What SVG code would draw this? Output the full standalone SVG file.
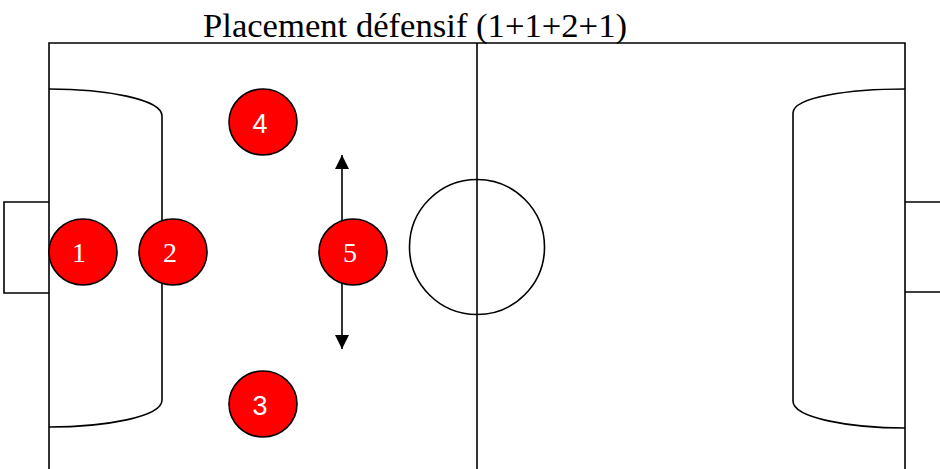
<svg xmlns="http://www.w3.org/2000/svg" width="940" height="469" viewBox="0 0 940 469">
<defs>
<style>
.ln{fill:none;stroke:#000;stroke-width:1.6}
.pl{fill:#ff0000;stroke:#000;stroke-width:1.6}
.ns{font-family:"Liberation Serif","Times New Roman",serif;font-size:28px;fill:#fff;text-anchor:middle}
.nn{font-family:"Liberation Sans",Arial,sans-serif;font-size:27px;fill:#fff;text-anchor:middle}
.title{font-family:"Liberation Serif","Times New Roman",serif;font-size:33px;fill:#000}
</style>
<marker id="ah" viewBox="0 0 10 10" refX="10" refY="5" markerWidth="14" markerHeight="14" markerUnits="userSpaceOnUse" orient="auto">
<path d="M0,0 L10,5 L0,10 Z" fill="#000"/>
</marker>
</defs>
<rect width="940" height="469" fill="#fff"/>
<g id="field">
<path class="ln" d="M49,469 V43 H905 V469"/>
<path class="ln" d="M477,43 V469"/>
<circle class="ln" cx="477" cy="247" r="67.5"/>
<path class="ln" d="M49,202 H4 V293 H49"/>
<path class="ln" d="M940,202 H905 M905,292 H940"/>
<path class="ln" d="M49,89 C105,89 162,99 162,116 V400 C162,417 105,427 49,427"/>
<path class="ln" d="M905,89 C850,89 793,97 793,113 V401 C793,418 850,428 905,428"/>
</g>
<text class="title" x="203" y="37" textLength="424" lengthAdjust="spacingAndGlyphs">Placement défensif (1+1+2+1)</text>
<g id="connectors">
<path class="ln" d="M342,252 V155" marker-end="url(#ah)"/>
<path class="ln" d="M342,252 V349" marker-end="url(#ah)"/>
</g>
<g id="p4"><ellipse class="pl" cx="263" cy="122" rx="34" ry="33"/><text class="nn" x="260" y="133">4</text></g>
<g id="p1"><ellipse class="pl" cx="83" cy="252" rx="34" ry="33"/><text class="ns" x="79" y="262">1</text></g>
<g id="p2"><ellipse class="pl" cx="173" cy="252" rx="34" ry="33"/><text class="ns" x="170" y="262">2</text></g>
<g id="p5"><ellipse class="pl" cx="353" cy="252" rx="34" ry="33"/><text class="ns" x="350" y="262">5</text></g>
<g id="p3"><ellipse class="pl" cx="263" cy="404" rx="34" ry="33"/><text class="nn" x="260" y="415">3</text></g>
</svg>
